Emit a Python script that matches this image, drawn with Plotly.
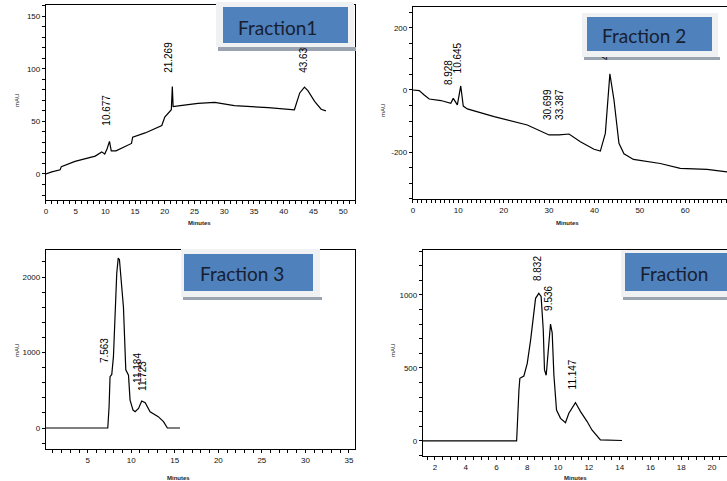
import plotly.graph_objects as go
import numpy as np

W, H = 727, 481

# ---------------- data ----------------
# Fraction 1
t1 = [0, 1.0, 2.4, 2.6, 4.9, 8.3, 9.4, 9.9, 10.3, 10.7, 11.0, 11.8, 14.4, 14.6, 16.7, 19.5,
      20.0, 21.1, 21.27, 21.4, 22.6, 25.6, 28.4, 31.7, 37.4, 41.8, 42.7, 43.5, 44.1, 45.2, 46.3, 47.1]
v1 = [0, 2, 4, 7, 12, 17, 21, 19, 24, 31, 22, 22, 29, 35, 39, 46,
      54, 61, 83, 64, 65, 67, 68, 65, 63, 61, 77, 82.5, 79, 69, 61.5, 60]
labels1 = ["10.677", "21.269", "43.635"]
lab1_t = [10.2, 20.6, 43.3]
lab1_v = [44, 94, 94]

# Fraction 2
t2 = [0, 1.4, 2.5, 3.6, 6.2, 8.35, 8.9, 9.8, 10.55, 11.1, 12.0, 17.9, 25.2, 30.0, 32.2, 34.4,
      36.9, 39.9, 41.3, 42.4, 43.4, 44.3, 45.4, 46.5, 48.6, 54.5, 58.9, 64.8, 69.2, 72.0]
v2 = [0, -2, -16, -29, -34, -43, -27, -48, 13, -52, -61, -86, -113, -145, -145, -142,
      -167, -191, -197, -140, 52, -32, -172, -206, -224, -237, -253, -256, -264, -268]
labels2 = ["8.928", "10.645", "30.699", "33.387", "43.460"]
lab2_t = [7.9, 9.9, 29.7, 32.3, 42.4]
lab2_v = [10, 48, -103, -103, 90]

# Fraction 3
t3 = [0.2, 7.3, 7.45, 7.56, 7.76, 7.95, 8.33, 8.5, 8.64, 9.1, 9.37, 9.68, 9.86, 10.2, 10.44,
      10.83, 11.2, 11.6, 12.16, 13.1, 13.7, 14.15, 15.6]
v3 = [0, 0, 282, 680, 710, 945, 2050, 2250, 2230, 1600, 770, 700, 370, 238, 215,
      260, 357, 335, 216, 150, 84, 0, 0]
labels3 = ["7.563", "11.184", "11.723"]
lab3_t = [6.93, 10.76, 11.34]
lab3_v = [834, 570, 464]

# Fraction 4
t4 = [1.2, 7.31, 7.46, 7.52, 7.78, 8.0, 8.22, 8.54, 8.75, 8.9, 9.04, 9.12, 9.23, 9.36, 9.51,
      9.62, 9.73, 9.9, 10.16, 10.48, 10.7, 11.13, 11.46, 11.89, 12.2, 12.75, 14.15]
v4 = [0, 0, 349, 429, 445, 532, 692, 977, 1011, 990, 760, 486, 450, 646, 801,
      740, 450, 212, 155, 125, 190, 263, 201, 133, 75, 7, 3]
labels4 = ["8.832", "9.536", "11.147"]
lab4_t = [8.67, 9.38, 10.94]
lab4_v = [1082, 877, 336]

titles = ["Fraction1", "Fraction 2", "Fraction 3", "Fraction"]


def px(p):
    return p / W


def py(p):
    return 1 - p / H


def ticks_for(rng, major, minor):
    start = np.ceil(rng[0] / minor) * minor
    vals = np.arange(start, rng[1] + 1e-9, minor)
    vals = [round(float(v), 6) for v in vals]
    text = []
    for v in vals:
        q = v / major
        if abs(q - round(q)) < 1e-6:
            text.append(f"{v:g}")
        else:
            text.append("")
    return vals, text


fig = go.Figure()

series = [(t1, v1), (t2, v2), (t3, v3), (t4, v4)]
for i, (t, v) in enumerate(series):
    suf = "" if i == 0 else str(i + 1)
    fig.add_trace(go.Scatter(x=t, y=v, mode="lines", xaxis="x" + suf, yaxis="y" + suf,
                             line=dict(color="black", width=1.2), showlegend=False,
                             hoverinfo="skip"))

# panel geometry in pixels: left, right, top, bottom
geo = [(44, 354, 5, 200), (412, 727, 7, 199), (44, 354, 250, 449), (422, 727, 250, 456)]
xr = [[0, 52], [0, 69.2], [0.19, 35.7], [1.22, 20.97]]
yr = [[-24.7, 160.5], [-351.6, 267.7], [-278, 2358], [-103, 1308]]
xmaj = [5, 10, 5, 2]
xmin = [1, 1, 1, 0.5]
ymaj = [50, 200, 1000, 500]
ymin = [10, 50, 200, 100]
mirror_y = [True, False, True, False]

tickfont = dict(family="Liberation Sans, Arial", size=8, color="#111")
layout = dict(width=W, height=H, margin=dict(l=0, r=0, t=0, b=0),
              paper_bgcolor="white", plot_bgcolor="white", showlegend=False)

for i in range(4):
    suf = "" if i == 0 else str(i + 1)
    l, r, tp, bt = geo[i]
    xv, xtx = ticks_for(xr[i], xmaj[i], xmin[i])
    yv, ytx = ticks_for(yr[i], ymaj[i], ymin[i])
    xa = dict(domain=[px(l), px(r)], range=xr[i], anchor="y" + suf,
              showline=True, linecolor="black", linewidth=1, mirror=True,
              ticks="outside", ticklen=3, tickcolor="black", tickmode="array",
              tickvals=xv, ticktext=xtx,
              showgrid=False, zeroline=False, tickfont=tickfont)
    ya = dict(domain=[py(bt), py(tp)], range=yr[i], anchor="x" + suf,
              showline=True, linecolor="black", linewidth=1, mirror=mirror_y[i],
              ticks="outside", ticklen=3, tickcolor="black", tickmode="array",
              tickvals=yv, ticktext=ytx,
              showgrid=False, zeroline=False, tickfont=tickfont)
    layout["xaxis" + suf] = xa
    layout["yaxis" + suf] = ya

annotations = []

# axis titles
xt_pos = [(198, 223), (567, 223), (177, 478), (575, 478)]
yt_pos = [(15, 100), (382, 110), (15, 350), (392, 350)]
for i in range(4):
    annotations.append(dict(text="<b>Minutes</b>", xref="paper", yref="paper",
                            x=px(xt_pos[i][0]), y=py(xt_pos[i][1]), showarrow=False,
                            xanchor="center", yanchor="middle",
                            font=dict(family="Liberation Sans, Arial", size=6, color="#222")))
    annotations.append(dict(text="mAU", xref="paper", yref="paper", textangle=-90,
                            x=px(yt_pos[i][0]), y=py(yt_pos[i][1]), showarrow=False,
                            xanchor="center", yanchor="middle",
                            font=dict(family="Liberation Sans, Arial", size=6, color="#222")))

boxes = [
    # frame (l, r, t, b), blue (l, r, t, b), shadow bottom, text x, text y
    ((215, 353, 2, 47), (222, 347, 7, 43), 51, 235, 27),
    ((582, 718, 13, 57), (587, 712, 17, 51), 60, 600, 35),
    ((179, 318, 249, 297), (183, 312, 254, 291), 300, 197, 273),
    ((621, 760, 250, 297), (625, 760, 253, 291), 300, 638, 273),
]
# box shadows (below labels)
for fr, bl, sb, tx, ty in boxes:
    annotations.append(dict(text=" ", xref="paper", yref="paper", x=px(fr[0] + 2), y=py(fr[3]),
                            xanchor="left", yanchor="top", width=fr[1] - fr[0], height=sb - fr[3],
                            bgcolor="#9aa3b0", borderpad=0, borderwidth=0, showarrow=False))

# peak labels
labs = [(labels1, lab1_t, lab1_v), (labels2, lab2_t, lab2_v),
        (labels3, lab3_t, lab3_v), (labels4, lab4_t, lab4_v)]
for i, (txts, ts, vs) in enumerate(labs):
    suf = "" if i == 0 else str(i + 1)
    for txt, t, v in zip(txts, ts, vs):
        annotations.append(dict(text=txt, x=t, y=v, xref="x" + suf, yref="y" + suf,
                                textangle=-90, xanchor="center", yanchor="bottom",
                                showarrow=False,
                                font=dict(family="Liberation Sans, Arial", size=10, color="black")))

# frames, blue boxes and titles (above labels)
for k, (fr, bl, sb, tx, ty) in enumerate(boxes):
    annotations.append(dict(text=" ", xref="paper", yref="paper", x=px(fr[0]), y=py(fr[2]),
                            xanchor="left", yanchor="top", width=fr[1] - fr[0], height=fr[3] - fr[2],
                            bgcolor="#f0f1f3", borderwidth=0, borderpad=0,
                            showarrow=False))
    annotations.append(dict(text=" ", xref="paper", yref="paper", x=px(bl[0]), y=py(bl[2]),
                            xanchor="left", yanchor="top", width=bl[1] - bl[0], height=bl[3] - bl[2],
                            bgcolor="#4f81bd", borderwidth=0, borderpad=0, showarrow=False))
    annotations.append(dict(text=titles[k], xref="paper", yref="paper", x=px(tx), y=py(ty),
                            xanchor="left", yanchor="middle", showarrow=False,
                            font=dict(family="Lato", size=19, color="#17202e")))

layout["annotations"] = annotations
fig.update_layout(**layout)
fig.write_html("out.html")
